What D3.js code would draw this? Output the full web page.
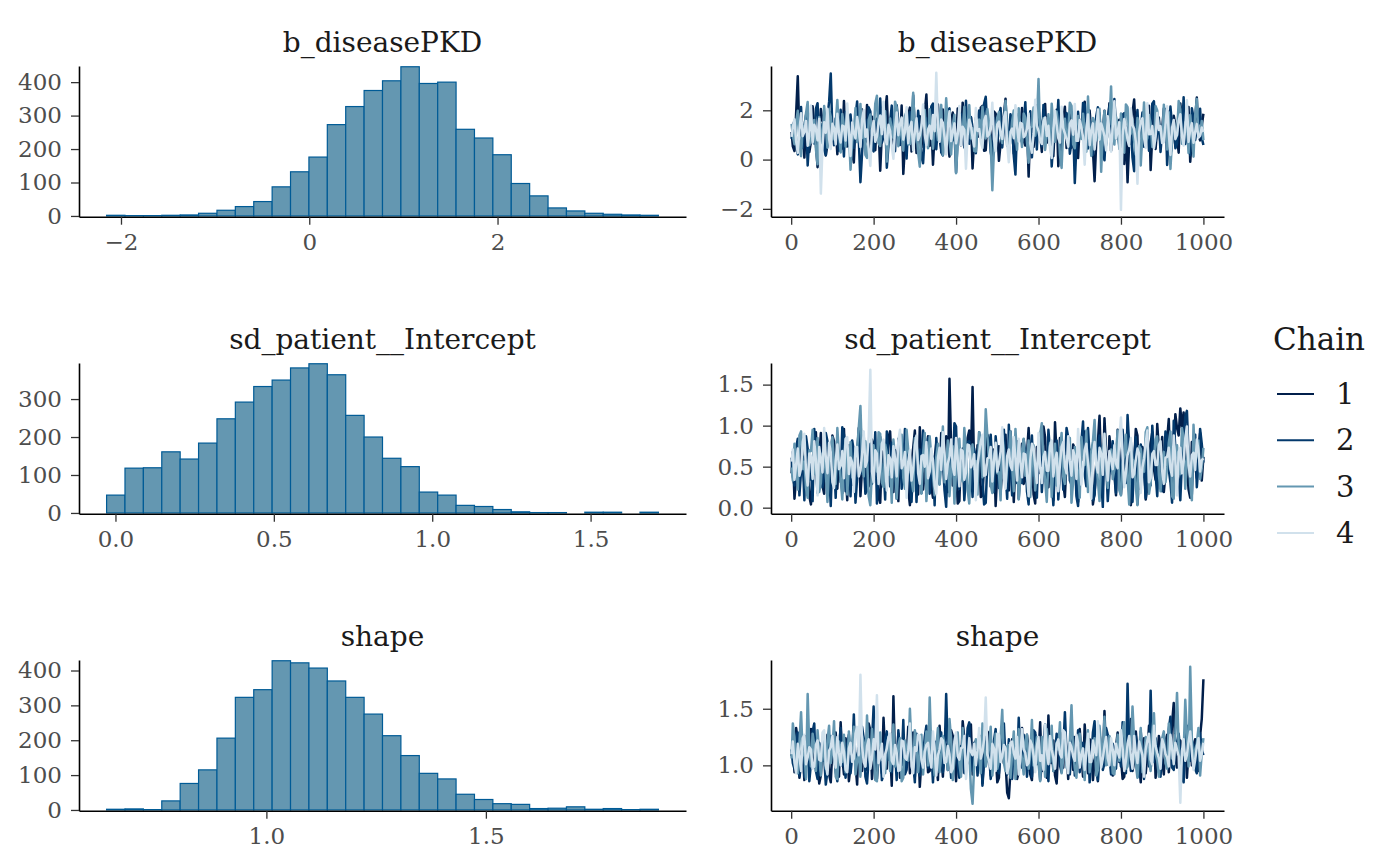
<!DOCTYPE html>
<html>
<head>
<meta charset="utf-8">
<script src="https://cdn.jsdelivr.net/npm/d3@7"></script>
<style>
body { margin: 0; background: #fff; }
svg { display: block; font-family: "DejaVu Serif", serif; }
.axis path.domain { stroke: #000; stroke-width: 1.6px; }
.axis .tick line { stroke: #333; stroke-width: 1.3px; }
.axis .tick text { fill: #4d4d4d; font-size: 23px; font-family: "DejaVu Serif", serif; }
.bar { fill: #6497b1; stroke: #005b96; stroke-width: 1.2px; }
.title { fill: #1a1a1a; font-size: 28px; text-anchor: middle; }
.legend text { fill: #1a1a1a; }
</style>
</head>
<body>
<svg width="1400" height="866"></svg>
<script>
/*Parameter names and chain colours*/
var params = ["b_diseasePKD", "sd_patient__Intercept", "shape"];
var chains = ["1", "2", "3", "4"];
var chainColors = ["#011f4b", "#03396c", "#6497b1", "#d1e1ec"];

/*Histogram counts (30 bins), first bin edge and bin width*/
var histCounts1 = [2, 1, 1, 2, 3, 8, 17, 28, 43, 87, 132, 176, 273, 327, 375, 404, 446, 396, 400, 259, 233, 183, 97, 60, 24, 15, 8, 5, 3, 2];
var histStart1 = -2.153, histWidth1 = 0.1954;
var histCounts2 = [47, 118, 119, 161, 142, 184, 248, 292, 333, 350, 382, 393, 364, 257, 200, 144, 122, 55, 47, 20, 17, 9, 3, 1, 1, 0, 2, 2, 0, 2];
var histStart2 = -0.028, histWidth2 = 0.05807;
var histCounts3 = [2, 3, 1, 26, 76, 115, 206, 323, 345, 428, 422, 407, 370, 323, 275, 213, 156, 105, 89, 45, 30, 18, 16, 4, 5, 9, 2, 4, 1, 2];
var histStart3 = 0.636, histWidth3 = 0.0419;

/*Tick values*/
var histXTicks1 = [-2, 0, 2], histYTicks1 = [0, 100, 200, 300, 400];
var histXTicks2 = [0, 0.5, 1, 1.5], histYTicks2 = [0, 100, 200, 300];
var histXTicks3 = [1, 1.5], histYTicks3 = [0, 100, 200, 300, 400];
var traceXTicks = [0, 200, 400, 600, 800, 1000];
var traceYTicks1 = [-2, 0, 2], traceYTicks2 = [0, 0.5, 1, 1.5], traceYTicks3 = [1, 1.5];

/*Trace draws, every 4th iteration of each chain*/
var thin = 4;
var trace1Chain1 = [1.12, 0.54, 0.35, 1.87, 3.38, 0.96, 1.63, 1.21, 0.08, 1.44, 1.95, 0.31, 0.72, 2.16, 1.28, 0.63, -0.31, 1.02, 2.05, 1.58, 1.47, 0.17, 0.61, 1.93, 1.89, 0.84, 0.94, 1.36,
  0.22, 1.68, 1.71, 0.45, 2.38, 1.12, 0.53, 1.79, 1.16, 0.26, -0.12, 1.55, 1.84, 0.91, 0.77, 2.03, 1.41, 0.69, 2.22, 1.18, 0.15, 1.74, 1.03, 0.38, 1.66, 1.29, -0.45, 1.05,
  0.89, 1.97, 2.57, 0.72, 1.32, 1.49, 0.41, 0.88, 1.97, 1.24, 0.66, 2.19, -0.58, 0.57, 1.51, 1.82, 2.11, 0.33, 0.98, 1.66, 0.27, 1.13, 1.76, 0.49, 1.22, 1.91, 2.64, 0.94,
  0.55, 1.47, -0.21, 1.06, 1.38, 2.24, 0.84, 0.42, 2.03, 1.35, 1.59, 0.79, 0.12, 1.63, 1.91, 1.08, 0.71, 2.07, 1.25, 0.58, 2.31, 1.39, 0.44, 0.97, 1.07, 1.72, -0.36, 0.83,
  1.69, 1.16, 0.93, 2.11, 2.18, 0.36, 0.38, 1.54, 1.49, 0.87, 0.62, 1.95, 1.87, 1.23, -0.05, 0.65, 1.14, 1.81, 2.47, 0.92, 0.81, 1.43, 1.35, 0.24, 0.19, 1.67, 1.79, 1.04,
  2.09, 0.76, 0.57, 1.52, -0.69, 1.28, 1.43, 0.51, 0.99, 2.21, 1.93, 1.09, 0.31, 1.74, 2.26, 0.68, 1.18, 1.37, 0.67, 0.14, 1.58, 2.02, -0.27, 0.95, 0.86, 1.61, 2.14, 0.47,
  1.29, 1.84, 0.48, 1.11, 1.82, 0.59, 0.06, 1.47, 1.61, 0.82, 2.35, 1.26, 0.74, 1.99, 1.09, 0.37, -0.88, 0.71, 1.45, 1.88, 0.58, 1.17, 1.98, 0.64, 1.21, 2.29, 0.36, 1.53,
  2.19, 0.86, 0.92, 1.62, 1.55, 0.21, -0.18, 1.34, -0.92, 0.77, 0.63, 1.9, 2.44, 1.07, 1.11, 0.52, 0.29, 1.75, 1.64, 1.19, 0.87, 2.18, -0.42, 0.98, 1.96, 0.43, 1.33, 1.71,
  0.51, 1.25, 2.07, 0.89, 1.26, 1.94, 0.16, 0.73, 1.78, 1.41, 0.95, 0.28, 2.28, 1.56, 0.69, 1.03, 1.47, 2.13, -0.09, 0.84, 1.15, 1.64, 2.52, 0.99, 0.78, 1.37, 1.86];
var trace1Chain2 = [0.84, 1.38, 1.57, 0.62, 0.21, 1.09, 2.13, 0.47, 1.36, 1.81, -0.24, 0.93, 1.88, 1.26, 0.65, 2.07, 2.29, 0.71, 1.02, 1.45, 0.39, 0.18, 1.74, 2.34, 3.49, 1.12, 0.58, 1.67,
  1.41, 0.36, 2.02, 1.24, 0.13, 1.93, 1.19, 0.55, 1.83, 1.01, 0.47, 1.72, 2.36, 0.82, -0.92, 0.27, 1.28, 1.63, 0.76, 2.12, 1.95, 0.44, 0.33, 1.35, 1.62, 0.98, 2.48, 0.69,
  0.91, 1.77, -0.33, 0.58, 1.54, 2.19, 1.09, 0.34, 2.21, 1.48, 0.59, 1.15, 1.37, 0.81, 0.04, 1.59, 1.92, 0.66, 2.61, 1.32, 0.72, 1.98, 1.24, 0.12, -0.15, 1.06, 1.68, 0.87,
  1.05, 2.16, 2.27, 0.73, 0.42, 1.46, 1.81, 0.29, 0.17, 1.39, 1.46, 1.97, 2.08, 0.64, 0.83, 1.22, -0.52, 0.91, 1.59, 1.86, 1.17, 0.49, 2.39, 1.05, 0.64, 1.73, 1.31, 0.38,
  0.26, 1.52, 1.99, 0.97, 0.88, 2.26, 2.55, 1.14, 1.42, 0.31, -0.07, 1.69, 1.13, 0.76, 1.76, 2.09, 0.49, 1.27, 2.17, 0.56, 0.97, 1.84, 1.53, 0.15, -0.61, 1.31, 1.85, 0.92,
  0.71, 1.43, 2.33, 0.63, 1.27, 1.96, 0.09, 1.18, 1.67, 0.41, 2.04, 1.55, 0.54, 2.22, 1.39, 0.87, 0.92, 1.64, -0.28, 0.78, 1.79, 1.11, 2.42, 0.53, 0.37, 1.49, 1.21, 1.89,
  1.58, 0.24, 0.68, 1.33, -0.95, 0.61, 1.94, 1.02, 1.06, 2.3, 2.24, 0.85, 0.45, 1.61, 1.34, 0.19, 0.81, 1.76, 2.12, 1.04, 1.48, 0.4, -0.03, 1.28, 1.72, 2.18, 0.61, 0.99,
  2.46, 1.36, 1.16, 0.57, 0.23, 1.82, 1.89, 0.94, 0.75, 1.47, 1.51, 0.08, -0.47, 1.25, 2.01, 0.67, 1.23, 1.91, 0.52, 1.14, 1.97, 0.36, 0.85, 2.27, 2.37, 0.74, 1.08, 1.58,
  0.31, 1.19, 1.65, 2.05, -0.22, 0.88, 2.15, 1.37, 1.44, 0.46, 0.66, 1.78, 1.87, 1.01, 2.53, 0.63, 0.94, 1.54, 0.18, 2.08, 1.71, 0.79, 1.3, 1.46, 2.06, 0.88, 0.59];
var trace1Chain3 = [1.45, 0.97, 0.62, 1.51, 1.98, 0.77, 0.14, 1.36, 1.27, 1.88, 2.34, 0.59, 0.83, 1.19, 1.61, 0.42, -0.19, 1.73, 1.09, 0.66, 2.17, 1.29, 0.48, 2.03, 1.74, 0.81, 0.96, 1.44,
  2.42, 1.07, 0.29, 1.85, 1.36, 0.52, 1.88, 1.14, -0.41, 0.73, 1.15, 2.09, 0.71, 1.32, 2.26, 0.88, 1.52, 0.19, 0.07, 1.61, 1.83, 1.03, 1.01, 2.28, 2.59, 0.67, 0.55, 1.42,
  1.22, 1.96, -0.08, 0.85, 1.67, 1.24, 0.89, 2.35, 2.11, 0.54, 1.43, 1.02, 0.36, 1.76, 1.95, 0.61, 0.63, 1.48, 2.71, 1.11, 1.18, 0.28, -0.29, 1.39, 1.57, 2.01, 0.92, 0.46,
  2.04, 1.26, 0.44, 1.63, 1.31, 0.79, 1.79, 2.22, 0.19, 0.95, 2.49, 1.34, 0.77, 0.21, 1.39, 1.82, -0.55, 0.69, 1.86, 1.18, 1.05, 2.14, 0.58, 1.47, 2.21, 0.86, 1.27, 0.35,
  0.33, 1.58, 1.62, 0.91, 2.14, 1.37, 0.86, 2.05, 1.48, 0.63, -1.24, 0.45, 1.12, 1.71, 1.93, 0.98, 0.67, 1.54, 2.38, 1.16, 0.24, 0.82, 1.56, 1.99, 1.03, 0.39, 2.08, 1.22,
  0.51, 1.87, 1.71, 0.74, -0.13, 1.29, 1.34, 2.11, 0.97, 1.45, 3.27, 0.93, 1.19, 1.68, 0.39, 1.07, 1.84, 0.56, 2.27, 1.33, 0.72, 1.95, 1.41, 0.18, -0.34, 1.24, 1.66, 0.89,
  1.08, 2.31, 2.18, 0.62, 0.46, 1.53, 1.77, 0.99, 0.84, 1.86, 1.29, 0.32, 2.56, 1.13, 0.15, 1.69, 1.53, 0.78, 0.93, 2.06, -0.49, 1.21, 1.97, 0.57, 1.24, 1.44, 2.97, 0.87,
  0.61, 1.74, 1.38, 0.43, 1.87, 1.12, 0.28, 2.24, 2.13, 0.96, 1.06, 1.63, 0.74, 0.2, 1.69, 1.35, -0.24, 1.09, 2.32, 0.68, 0.87, 1.81, 1.46, 0.51, 0.53, 2.17, 1.99, 1.26,
  1.17, 0.73, 2.23, 1.42, 0.41, 1.92, -0.38, 0.84, 1.59, 1.16, 0.98, 2.38, 2.05, 0.64, 0.69, 1.51, 1.35, 0.27, 1.81, 1.07, 0.12, 1.78, 2.46, 0.93, 1.02, 1.57, 0.79];
var trace1Chain4 = [0.92, 1.31, 1.64, 0.74, 0.27, 1.18, 1.88, 0.95, 1.13, 1.57, 0.56, 1.02, 2.19, 0.68, 1.41, 1.23, 0.78, 1.66, -1.38, 0.49, 1.52, 1.09, 2.06, 0.83, 0.43, 1.45, 1.27, 0.61,
  1.86, 1.05, 0.69, 1.38, 1.35, 0.77, 2.28, 1.14, 0.15, 1.51, 1.08, 0.86, 1.73, 1.27, 0.51, 1.62, 2.01, 0.93, 1.22, 0.41, -0.26, 1.19, 1.57, 0.72, 0.94, 1.48, 1.79, 1.03,
  2.35, 0.88, 0.62, 1.41, 1.17, 0.56, 0.03, 1.26, 1.91, 0.99, 1.44, 1.71, 0.81, 1.12, 2.12, 0.67, 1.29, 1.53, 0.37, 1.08, 1.68, 0.79, 0.98, 1.36, 2.24, 1.01, 0.58, 1.22,
  1.38, 0.84, 1.81, 1.15, 3.52, 1.29, 0.72, 1.63, 1.49, 0.91, 0.21, 1.34, 1.96, 0.75, 1.11, 1.47, 0.66, 1.04, 2.17, 0.59, 1.33, 1.21, -0.37, 0.97, 1.62, 1.39, 0.89, 0.53,
  2.09, 1.16, 1.24, 0.71, 0.47, 1.58, 1.77, 0.94, 1.02, 1.35, 2.31, 0.82, 0.34, 1.43, 1.54, 1.07, 0.84, 1.69, 1.93, 0.62, -0.11, 1.13, 1.26, 0.87, 2.21, 1.32, 0.73, 1.49,
  1.45, 0.91, 0.99, 1.25, 1.87, 0.64, 0.28, 1.06, 2.43, 1.37, 1.16, 0.78, 0.63, 1.55, 1.71, 0.96, 1.37, 0.45, 0.06, 1.18, 1.98, 1.41, 0.87, 0.69, 2.14, 1.28, 1.06, 0.83,
  0.52, 1.44, 1.59, 1.01, 2.26, 0.76, 0.76, 1.61, 1.31, 0.92, -0.21, 1.21, 1.83, 0.58, 1.19, 1.47, 0.41, 1.09, 2.03, 0.81, 1.47, 1.24, 0.95, 0.37, 1.76, 1.15, 0.32, 1.33,
  2.37, 0.86, 1.14, 1.52, -2.04, 0.98, 1.65, 1.27, 0.79, 0.55, 2.07, 1.39, 1.25, 0.74, -0.98, 1.11, 1.53, 1.68, 0.88, 0.47, 2.29, 1.03, 1.04, 1.36, 0.46, 0.93, 1.89, 1.2,
  1.36, 0.67, 0.71, 1.42, 2.16, 1.05, 0.19, 1.29, 1.61, 0.83, 1.01, 1.57, 1.84, 0.96, 0.57, 1.34, 2.41, 0.72, 1.23, 1.48, 0.68, 1.12, 1.44, 0.89, 0.97, 1.3, 1.12];

var trace2Chain1 = [0.42, 0.68, 0.11, 0.36, 0.67, 0.21, 0.85, 0.57, 0.29, 0.79, 0.53, 0.14, 0.04, 0.46, 0.74, 0.92, 0.38, 0.61, 0.91, 0.27, 0.17, 0.72, 0.62, 0.33, 0.47, 0.88, 0.81, 0.52,
  0.23, 0.66, 0.58, 0.18, 0.96, 0.43, 0.09, 0.76, 0.71, 0.28, 0.35, 0.59, 0.64, 0.97, 0.14, 0.48, 0.88, 0.24, 0.49, 0.69, 0.26, 0.83, 0.77, 0.39, 0.55, 0.12, 0.06, 0.64,
  0.69, 0.31, 0.41, 0.86, 0.93, 0.5, 0.19, 0.7, 0.61, 0.08, 0.83, 0.45, 0.32, 0.78, 0.51, 0.22, 0.03, 0.57, 0.73, 0.94, 0.45, 0.16, 0.98, 0.63, 0.22, 0.41, 0.66, 0.87,
  0.57, 0.25, 0.12, 0.6, 0.79, 0.35, 0.36, 0.91, 0.63, 0.48, 0.87, 0.19, 1.57, 0.73, 0.27, 0.54, 0.52, 0.05, 0.08, 0.67, 0.72, 0.3, 0.44, 0.85, 0.94, 0.58, 1.47, 0.4,
  0.31, 0.76, 0.68, 0.13, 0.15, 0.52, 0.59, 0.89, 0.82, 0.26, 0.39, 0.71, 0.02, 0.44, 0.75, 0.18, 0.48, 0.62, 0.89, 0.35, 0.21, 0.93, 0.65, 0.07, 0.54, 0.81, 0.11, 0.47,
  0.78, 0.29, 0.34, 0.66, 0.97, 0.55, 0.61, 0.16, 0.05, 0.74, 0.71, 0.42, 0.43, 0.99, 0.86, 0.24, 0.25, 0.69, 0.56, 0.09, 1.04, 0.63, 0.37, 0.85, 0.67, 0.31, 0.13, 0.58,
  0.84, 0.45, 0.46, 0.77, 0.72, 0.2, 0.07, 0.6, 0.58, 0.94, 0.92, 0.37, 0.33, 0.71, 0.63, 0.04, 0.18, 0.53, 0.8, 1.12, 0.5, 0.26, 1.09, 0.68, 0.28, 0.87, 0.69, 0.41,
  0.41, 0.15, 0.95, 0.64, 0.16, 0.49, 0.6, 0.82, 0.76, 0.3, 0.03, 0.58, 0.53, 0.96, 0.88, 0.23, 0.35, 0.74, 0.66, 0.1, 0.24, 0.61, 0.79, 0.92, 0.47, 0.34, 1.02, 0.71,
  0.58, 0.86, 0.19, 0.42, 0.83, 1.08, 0.4, 0.65, 0.7, 1.14, 0.97, 0.88, 1.21, 0.98, 1.16, 0.59, 0.49, 0.22, 0.12, 0.8, 0.74, 0.53, 0.36, 0.67, 0.91, 0.33, 0.62];
var trace2Chain2 = [0.61, 0.38, 0.27, 0.73, 0.84, 0.15, 0.45, 0.62, 0.09, 0.87, 0.72, 0.34, 0.53, 0.08, 0.96, 0.49, 0.18, 0.77, 0.66, 0.25, 0.39, 0.91, 0.81, 0.44, 0.02, 0.68, 0.57, 0.12,
  0.74, 0.55, 0.31, 0.98, 0.89, 0.2, 0.48, 0.63, 0.14, 0.82, 0.69, 0.06, 0.36, 0.75, 1.12, 0.41, 0.59, 0.17, 0.21, 0.66, 0.78, 0.29, 0.43, 0.92, 0.05, 0.51, 0.86, 0.35,
  0.52, 0.1, 0.93, 0.58, 0.26, 0.79, 0.64, 0.37, 0.11, 0.84, 0.75, 0.23, 0.47, 0.96, 0.83, 0.44, 0.33, 0.07, 0.58, 0.7, 0.07, 0.53, 0.71, 0.18, 0.94, 0.62, 0.4, 0.85,
  0.17, 0.47, 0.62, 0.03, 0.85, 0.56, 0.29, 0.74, 0.55, 0.21, 0.01, 0.66, 0.77, 0.36, 0.44, 1.03, 0.99, 0.28, 0.23, 0.61, 0.68, 0.09, 0.38, 0.8, 0.81, 0.5, 0.13, 0.72,
  0.6, 0.32, 0.92, 0.68, 0.34, 0.04, 0.06, 0.57, 0.73, 0.89, 0.5, 0.19, 0.87, 0.63, 0.24, 0.42, 0.65, 0.95, 0.42, 0.11, 1.01, 0.54, 0.15, 0.76, 0.57, 0.3, 0.79, 0.45,
  0.3, 0.83, 0.67, 0.2, 0.04, 0.61, 0.88, 0.39, 0.46, 0.12, 0.71, 0.9, 0.19, 0.52, 0.61, 0.27, 0.95, 0.68, 0.37, 0.03, 0.54, 0.82, 0.1, 0.44, 0.76, 0.22, 0.49, 0.97,
  0.86, 0.33, 0.28, 0.7, 0.64, 0.14, 0.02, 0.59, 0.8, 1.05, 0.41, 0.26, 0.97, 0.62, 0.56, 0.09, 0.16, 0.48, 0.73, 0.88, 0.35, 0.01, 0.9, 0.56, 0.08, 0.4, 0.62, 0.81,
  0.47, 0.18, 0.83, 0.53, 0.22, 0.95, 0.69, 0.3, 1.13, 0.75, 0.39, 0.07, 0.58, 0.86, 0.04, 0.36, 0.77, 0.63, 0.45, 0.12, 0.92, 0.54, 0.27, 1.0, 0.66, 0.41, 0.14, 0.69,
  0.74, 0.2, 0.51, 0.93, 0.87, 0.46, 0.31, 0.06, 1.06, 0.72, 0.6, 0.35, 0.09, 0.58, 0.82, 1.11, 1.18, 0.64, 0.43, 0.16, 0.7, 0.89, 0.25, 0.52, 0.96, 0.78, 0.55];
var trace2Chain3 = [0.49, 0.33, 0.78, 0.61, 0.22, 0.88, 0.93, 0.47, 0.56, 0.24, 0.12, 0.7, 0.69, 0.95, 0.41, 0.58, 0.85, 0.19, 0.3, 0.66, 0.63, 0.42, 0.07, 0.54, 0.74, 0.86, 0.52, 0.29,
  0.97, 0.64, 0.35, 0.1, 0.61, 0.83, 0.16, 0.51, 0.8, 0.37, 0.46, 0.72, 0.71, 0.98, 1.24, 0.57, 0.38, 0.81, 0.58, 0.14, 0.03, 0.45, 0.76, 0.62, 0.44, 0.92, 0.9, 0.31,
  0.25, 0.77, 0.67, 0.4, 0.54, 0.06, 0.83, 0.6, 0.11, 0.49, 0.72, 0.89, 0.36, 0.23, 0.95, 0.7, 0.59, 0.34, 0.2, 0.85, 0.79, 0.53, 0.48, 0.17, 0.65, 0.91, 0.08, 0.43,
  0.87, 0.62, 0.4, 0.15, 0.62, 0.78, 0.28, 0.56, 0.99, 0.31, 0.53, 0.82, 0.14, 0.45, 0.75, 0.05, 0.45, 0.68, 0.84, 0.39, 0.32, 0.97, 0.68, 0.22, 0.05, 0.58, 0.77, 0.47,
  0.57, 0.16, 0.92, 0.74, 0.37, 0.55, 1.2, 0.87, 0.6, 0.28, 0.18, 0.64, 0.73, 0.42, 0.43, 0.09, 0.88, 0.71, 0.26, 0.5, 0.64, 0.93, 0.5, 0.2, 0.96, 0.61, 0.1, 0.36,
  0.7, 0.84, 0.39, 0.59, 0.82, 0.13, 0.55, 0.76, 0.21, 0.44, 0.66, 0.9, 1.03, 0.52, 0.34, 0.07, 0.6, 0.79, 0.13, 0.48, 0.78, 0.27, 0.47, 0.69, 0.91, 0.38, 0.29, 0.63,
  0.63, 0.85, 0.06, 0.32, 0.74, 0.57, 0.42, 0.12, 0.86, 0.65, 0.52, 0.94, 0.19, 0.4, 0.69, 0.81, 1.07, 0.55, 0.33, 0.08, 0.58, 0.73, 0.81, 0.46, 0.24, 0.62, 0.71, 0.35,
  0.46, 0.67, 0.94, 0.21, 0.15, 0.53, 0.65, 0.89, 0.37, 0.04, 0.8, 0.59, 0.56, 0.26, 0.03, 0.75, 0.72, 0.48, 0.44, 0.92, 0.98, 0.17, 0.3, 0.66, 0.61, 0.83, 0.87, 0.4,
  0.2, 0.57, 0.68, 0.31, 0.5, 0.79, 0.93, 0.14, 0.11, 0.63, 0.76, 0.45, 0.41, 0.97, 0.84, 0.23, 0.57, 0.7, 0.27, 0.09, 1.01, 0.55, 0.64, 0.82, 0.35, 0.48, 0.73];
var trace2Chain4 = [0.56, 0.71, 0.34, 0.52, 0.72, 0.39, 0.48, 0.8, 0.9, 0.45, 0.27, 0.66, 0.63, 0.35, 0.81, 0.58, 0.15, 0.74, 0.59, 0.43, 0.97, 0.62, 0.42, 0.79, 0.68, 0.31, 0.24, 0.57,
  0.77, 0.47, 0.51, 0.69, 0.36, 0.84, 0.86, 0.41, 0.61, 0.55, 0.19, 0.73, 0.74, 0.38, 0.45, 0.65, 0.93, 0.5, 0.57, 0.87, 1.68, 0.44, 0.31, 0.7, 0.66, 0.29, 0.49, 0.78,
  0.83, 0.53, 0.21, 0.64, 0.6, 0.37, 0.75, 0.59, 0.38, 0.82, 0.95, 0.48, 0.53, 0.68, 0.12, 0.56, 0.7, 0.33, 0.47, 0.76, 0.88, 0.42, 0.29, 0.63, 0.64, 0.5, 0.8, 0.36,
  0.44, 0.72, 0.58, 0.27, 0.17, 0.61, 0.73, 0.46, 0.92, 0.67, 0.35, 0.54, 0.62, 0.83, 0.5, 0.4, 0.85, 0.58, 0.26, 0.71, 0.69, 0.34, 0.43, 0.77, 0.76, 0.49, 0.55, 0.65,
  0.09, 0.52, 0.67, 0.81, 0.89, 0.39, 0.4, 0.6, 0.61, 0.74, 0.32, 0.57, 0.79, 0.44, 0.54, 0.69, 0.98, 0.36, 0.23, 0.63, 0.71, 0.51, 0.46, 0.86, 0.6, 0.33, 0.84, 0.55,
  0.37, 0.66, 0.65, 0.41, 0.14, 0.58, 0.78, 0.72, 0.52, 0.3, 0.91, 0.49, 0.3, 0.62, 0.68, 0.45, 0.45, 0.75, 0.82, 0.38, 0.58, 0.67, 0.2, 0.53, 0.74, 0.8, 0.5, 0.42,
  0.87, 0.57, 0.39, 0.7, 0.63, 0.35, 0.96, 0.61, 0.28, 0.48, 0.7, 0.78, 0.55, 0.34, 0.11, 0.64, 0.8, 0.52, 0.43, 0.73, 0.66, 0.4, 0.9, 0.59, 0.33, 0.69, 0.59, 0.47,
  0.76, 0.54, 0.48, 0.83, 1.1, 0.62, 0.25, 0.43, 0.64, 0.71, 0.85, 0.37, 0.41, 0.58, 0.72, 0.66, 0.18, 0.49, 0.6, 0.79, 0.94, 0.31, 0.36, 0.65, 0.69, 0.52, 0.52, 0.76,
  0.81, 0.45, 0.29, 0.61, 0.62, 0.73, 0.47, 0.39, 0.88, 0.57, 0.15, 0.68, 0.73, 0.42, 0.56, 0.84, 0.99, 0.51, 0.38, 0.64, 0.67, 0.46, 0.83, 0.7, 0.44, 0.58, 0.6];

var trace3Chain1 = [1.08, 1.19, 0.94, 1.33, 1.23, 0.89, 1.01, 1.12, 0.87, 1.26, 1.15, 0.97, 1.32, 1.04, 0.98, 1.21, 1.06, 0.84, 0.91, 1.17, 1.19, 1.03, 1.27, 0.92, 0.85, 1.14, 1.11, 1.29,
  1.03, 0.9, 1.38, 1.07, 0.92, 1.24, 1.14, 0.86, 0.99, 1.16, 1.25, 1.01, 0.83, 1.3, 1.09, 0.95, 1.21, 1.13, 0.96, 1.37, 1.31, 0.88, 1.05, 1.2, 0.88, 1.06, 1.17, 0.93,
  1.42, 1.1, 0.97, 1.22, 1.12, 0.82, 1.61, 1.04, 1.02, 1.28, 0.89, 1.15, 1.2, 0.99, 1.07, 1.34, 0.93, 1.08, 1.29, 0.9, 1.13, 1.23, 0.81, 1.05, 1.1, 1.18, 1.24, 0.94,
  0.95, 1.27, 1.16, 1.02, 1.04, 0.87, 1.35, 1.11, 0.9, 1.2, 1.18, 0.96, 1.01, 1.31, 1.26, 1.07, 0.86, 1.15, 1.12, 0.93, 1.39, 1.24, 0.98, 1.03, 1.08, 1.36, 0.92, 1.13,
  1.22, 0.97, 1.05, 1.18, 0.84, 1.09, 1.15, 1.3, 1.28, 0.91, 0.97, 1.14, 1.1, 0.85, 0.89, 1.25, 1.19, 1.02, 1.03, 0.76, 0.71, 0.95, 1.23, 1.17, 1.06, 0.88, 0.94, 1.21,
  1.33, 1.05, 1.0, 1.27, 1.14, 0.92, 0.87, 1.16, 1.27, 1.01, 1.09, 1.38, 0.95, 1.11, 1.2, 0.89, 1.44, 1.07, 1.02, 1.22, 0.91, 0.84, 1.17, 1.29, 1.07, 0.98, 1.3, 1.12,
  0.88, 1.19, 1.13, 0.96, 1.25, 1.05, 0.99, 1.32, 1.08, 0.9, 1.36, 1.14, 0.93, 1.23, 1.21, 0.87, 1.04, 1.1, 0.86, 1.28, 1.16, 0.99, 1.48, 1.06, 1.01, 1.24, 1.11, 0.91,
  0.96, 1.17, 1.29, 1.03, 1.06, 0.88, 0.9, 1.22, 1.19, 1.09, 1.41, 0.95, 1.03, 1.3, 1.14, 1.01, 0.85, 1.18, 1.24, 0.93, 1.09, 1.35, 0.97, 1.12, 1.32, 0.89, 1.05, 1.26,
  1.18, 1.04, 0.92, 1.21, 1.27, 0.94, 1.12, 1.37, 1.55, 1.08, 0.98, 1.16, 1.22, 0.9, 1.07, 1.29, 0.89, 1.13, 1.34, 1.0, 1.15, 1.23, 1.02, 0.95, 1.26, 1.41, 1.76];
var trace3Chain2 = [1.14, 1.02, 0.97, 1.25, 1.29, 0.91, 1.05, 1.18, 0.9, 1.11, 1.21, 0.86, 1.02, 1.3, 1.37, 0.95, 0.88, 1.2, 1.16, 1.04, 1.08, 0.83, 0.95, 1.22, 1.26, 1.09, 1.11, 0.94,
  0.86, 1.17, 1.33, 1.0, 1.03, 0.89, 1.19, 1.27, 0.93, 1.08, 1.45, 0.98, 1.07, 1.15, 0.99, 1.34, 1.24, 0.9, 0.84, 1.06, 1.13, 1.21, 1.52, 0.97, 1.0, 1.14, 1.18, 0.87,
  0.92, 1.23, 1.3, 1.05, 1.06, 0.94, 1.22, 1.12, 0.87, 1.31, 1.12, 1.0, 1.4, 0.92, 0.96, 1.19, 1.17, 1.07, 1.04, 0.85, 1.28, 1.16, 0.91, 1.03, 1.09, 1.25, 1.35, 0.98,
  1.01, 1.13, 0.85, 1.21, 1.2, 0.96, 1.1, 1.29, 0.94, 1.07, 1.63, 1.14, 1.15, 0.89, 1.03, 1.24, 1.27, 1.01, 0.89, 1.17, 1.13, 0.93, 1.06, 1.33, 1.38, 1.05, 0.95, 1.2,
  1.19, 0.91, 1.08, 1.26, 0.82, 1.04, 1.25, 1.15, 1.11, 0.88, 1.0, 1.22, 1.32, 0.97, 0.93, 1.1, 1.17, 1.37, 1.05, 0.92, 1.23, 1.08, 0.88, 1.18, 1.14, 0.99, 1.42, 1.06,
  0.98, 1.27, 1.2, 0.9, 1.07, 1.13, 0.9, 1.31, 1.29, 1.02, 1.12, 0.87, 1.01, 1.19, 1.36, 1.05, 0.86, 1.23, 1.16, 0.95, 1.09, 1.28, 1.24, 1.0, 0.94, 1.12, 1.47, 1.09,
  1.04, 0.92, 1.18, 1.25, 0.91, 1.06, 1.31, 0.94, 1.1, 1.2, 0.97, 1.14, 1.21, 0.85, 1.06, 1.29, 1.39, 1.02, 0.87, 1.16, 1.15, 0.96, 1.02, 1.33, 1.27, 1.08, 0.92, 1.19,
  1.13, 0.97, 1.23, 1.11, 0.99, 1.38, 1.08, 0.93, 1.72, 1.15, 0.95, 1.04, 1.19, 1.26, 1.05, 0.9, 1.3, 1.12, 0.88, 1.21, 1.17, 0.99, 1.66, 1.07, 1.03, 1.24, 1.12, 0.94,
  0.9, 1.16, 1.26, 1.02, 1.07, 1.32, 1.43, 0.98, 0.96, 1.11, 1.2, 1.28, 1.11, 0.9, 0.85, 1.18, 1.35, 1.06, 1.04, 1.22, 1.18, 0.97, 0.93, 1.3, 1.28, 1.14, 1.09];
var trace3Chain3 = [1.06, 1.37, 1.25, 0.98, 0.93, 1.2, 1.47, 1.09, 1.12, 0.88, 1.63, 1.15, 0.99, 1.28, 1.18, 0.95, 1.31, 1.11, 0.91, 1.24, 1.08, 0.97, 1.22, 1.35, 1.02, 1.14, 1.39, 0.9,
  0.88, 1.21, 1.15, 1.03, 1.27, 0.94, 0.97, 1.3, 1.1, 1.17, 1.34, 0.92, 1.04, 1.12, 0.9, 1.26, 1.2, 0.99, 1.44, 1.08, 1.01, 1.32, 1.13, 0.87, 0.86, 1.19, 1.29, 1.05,
  1.07, 0.93, 1.17, 1.25, 0.95, 1.11, 1.36, 0.99, 1.03, 1.18, 1.24, 0.86, 0.89, 1.22, 1.14, 1.04, 1.5, 1.15, 0.98, 1.31, 1.21, 0.94, 1.09, 1.27, 0.92, 1.13, 1.3, 1.0,
  1.6, 1.12, 1.05, 0.91, 1.16, 1.33, 0.94, 1.08, 1.26, 1.19, 1.11, 0.96, 1.41, 1.23, 0.87, 1.05, 1.19, 1.29, 1.02, 0.9, 1.33, 1.14, 0.96, 1.07, 1.13, 0.79, 0.66, 1.01,
  1.23, 1.15, 1.08, 0.93, 1.37, 1.21, 0.99, 1.06, 1.15, 1.34, 0.91, 1.1, 1.28, 0.97, 1.04, 1.24, 1.49, 1.02, 0.95, 1.17, 1.18, 0.89, 1.1, 1.3, 0.88, 1.07, 1.32, 1.13,
  1.06, 0.92, 1.21, 1.27, 0.97, 1.09, 1.4, 1.0, 1.12, 1.25, 1.01, 0.86, 1.25, 1.16, 0.9, 1.32, 1.17, 1.03, 1.35, 0.95, 1.03, 1.2, 1.14, 1.38, 0.93, 1.06, 1.29, 0.98,
  1.08, 1.22, 1.53, 1.11, 0.98, 0.89, 1.2, 1.28, 1.11, 1.03, 0.87, 1.16, 1.31, 0.94, 1.05, 1.19, 1.24, 0.91, 0.96, 1.35, 1.16, 1.07, 1.43, 1.0, 1.02, 1.26, 1.19, 0.93,
  0.92, 1.13, 1.27, 1.04, 1.09, 1.31, 1.38, 0.97, 0.99, 1.18, 1.14, 1.52, 1.22, 1.01, 0.89, 1.12, 1.33, 0.94, 1.07, 1.25, 1.18, 1.08, 0.95, 1.29, 1.46, 1.1, 1.04, 0.9,
  1.15, 1.24, 1.3, 1.02, 0.97, 1.37, 1.21, 1.06, 1.12, 1.28, 1.64, 1.17, 0.94, 1.08, 1.1, 1.58, 1.26, 0.99, 1.87, 1.23, 1.01, 1.14, 1.19, 1.33, 0.91, 1.11, 1.24];
var trace3Chain4 = [1.1, 1.21, 1.02, 0.93, 1.19, 1.08, 0.95, 1.24, 1.27, 1.01, 1.07, 1.16, 1.14, 0.97, 0.99, 1.18, 1.22, 1.05, 1.04, 1.29, 1.31, 1.0, 0.92, 1.13, 1.16, 1.26, 1.09, 0.98,
  1.25, 1.11, 1.0, 1.2, 1.12, 0.96, 0.94, 1.15, 1.2, 1.03, 1.06, 1.28, 1.34, 1.09, 1.8, 1.17, 1.03, 0.99, 1.17, 1.23, 0.97, 1.06, 1.23, 1.14, 1.62, 1.02, 1.08, 1.19,
  0.9, 1.1, 1.15, 1.25, 1.28, 1.04, 1.01, 1.18, 1.11, 0.95, 0.96, 1.22, 1.21, 1.07, 1.05, 1.13, 1.37, 0.99, 0.93, 1.16, 1.13, 1.27, 1.26, 1.05, 0.98, 1.12, 1.18, 1.2,
  1.07, 0.98, 1.3, 1.14, 0.91, 1.09, 1.14, 1.24, 1.22, 1.02, 1.03, 1.17, 1.1, 0.94, 0.97, 1.21, 1.29, 1.08, 1.05, 1.15, 1.16, 1.26, 0.88, 1.04, 1.24, 1.12, 1.09, 1.19,
  1.0, 1.13, 1.33, 1.06, 1.12, 1.23, 1.6, 1.1, 1.04, 0.97, 1.19, 1.15, 0.95, 1.28, 1.27, 1.03, 1.08, 1.18, 1.15, 0.93, 0.99, 1.2, 1.21, 1.11, 1.06, 1.25, 0.92, 1.07,
  1.32, 1.14, 1.11, 1.0, 1.02, 1.22, 1.18, 1.09, 0.94, 1.17, 1.25, 1.04, 1.09, 0.96, 1.36, 1.13, 1.01, 1.26, 1.14, 1.07, 0.97, 1.19, 1.23, 1.1, 1.07, 1.31, 1.29, 1.05,
  0.93, 1.2, 1.16, 1.08, 1.04, 1.27, 1.2, 0.98, 1.1, 1.15, 0.96, 1.12, 1.28, 1.03, 1.03, 1.22, 1.13, 1.09, 1.39, 1.17, 0.98, 1.06, 1.17, 1.25, 1.06, 1.0, 1.24, 1.14,
  1.0, 1.19, 1.12, 1.07, 1.31, 1.16, 0.95, 1.04, 1.19, 1.26, 1.08, 0.97, 1.26, 1.11, 1.02, 1.21, 1.15, 1.09, 0.9, 1.14, 1.22, 1.28, 1.05, 1.01, 1.35, 1.17, 1.11, 1.06,
  0.97, 1.23, 1.18, 1.1, 1.07, 0.99, 1.27, 1.15, 1.01, 1.2, 1.14, 1.08, 0.67, 1.13, 1.23, 1.04, 1.09, 1.21, 1.3, 1.12, 0.96, 1.05, 1.16, 1.24, 1.04, 1.1, 1.2];

/*Rows are assembled from the arrays above*/
var rows = [
  {name: params[0], counts: histCounts1, start: histStart1, bw: histWidth1, hx: histXTicks1, hy: histYTicks1,
   hfmt: d3.format("d"), ty: traceYTicks1, tfmt: d3.format("d"),
   chains: [trace1Chain1, trace1Chain2, trace1Chain3, trace1Chain4]},
  {name: params[1], counts: histCounts2, start: histStart2, bw: histWidth2, hx: histXTicks2, hy: histYTicks2,
   hfmt: d3.format(".1f"), ty: traceYTicks2, tfmt: d3.format(".1f"),
   chains: [trace2Chain1, trace2Chain2, trace2Chain3, trace2Chain4]},
  {name: params[2], counts: histCounts3, start: histStart3, bw: histWidth3, hx: histXTicks3, hy: histYTicks3,
   hfmt: d3.format(".1f"), ty: traceYTicks3, tfmt: d3.format(".1f"),
   chains: [trace3Chain1, trace3Chain2, trace3Chain3, trace3Chain4]}
];

var svg = d3.select("svg");

/*Panel boxes in pixels*/
var histLeft = 79, histRight = 686, traceLeft = 771, traceRight = 1224;
var rowTop = 66, rowBottom = 216.7, rowStep = 297;

/*ggplot style padding around a range*/
function expand(lo, hi, m) {
  var d = (hi - lo) * m;
  return [lo - d, hi + d];
}

rows.forEach(function(row, r) {
  var top = rowTop + r * rowStep,
      bottom = rowBottom + r * rowStep;

  /*Histogram*/
  var bins = row.counts.map(function(c, i) {
    return {x0: row.start + i * row.bw, x1: row.start + (i + 1) * row.bw, n: c};
  });
  var hi = row.start + row.counts.length * row.bw;
  var x = d3.scaleLinear().domain(expand(row.start, hi, 0.05)).range([histLeft, histRight]);
  var y = d3.scaleLinear().domain(expand(0, d3.max(row.counts), 0.005)).range([bottom, top]);

  svg.append("g").selectAll(".bar")
    .data(bins)
    .enter().append("rect")
      .attr("class", "bar")
      .attr("x", function(d) { return x(d.x0); })
      .attr("y", function(d) { return y(d.n); })
      .attr("width", function(d) { return x(d.x1) - x(d.x0); })
      .attr("height", function(d) { return y(0) - y(d.n); });

  svg.append("g")
      .attr("class", "axis")
      .attr("transform", "translate(0," + bottom + ")")
      .call(d3.axisBottom(x).tickValues(row.hx).tickFormat(row.hfmt).tickSize(8).tickSizeOuter(0).tickPadding(9));

  svg.append("g")
      .attr("class", "axis")
      .attr("transform", "translate(" + histLeft + ",0)")
      .call(d3.axisLeft(y).tickValues(row.hy).tickFormat(d3.format("d")).tickSize(8).tickSizeOuter(0).tickPadding(9));

  svg.append("text")
      .attr("class", "title")
      .attr("x", (histLeft + histRight) / 2)
      .attr("y", top - 24)
      .attr("dy", "0.35em")
      .text(row.name);

  /*Trace plot, chain 4 drawn last so it sits on top*/
  var all = d3.merge(row.chains);
  var tx = d3.scaleLinear().domain(expand(1, 1000, 0.05)).range([traceLeft, traceRight]);
  var ty = d3.scaleLinear().domain(expand(d3.min(all), d3.max(all), 0.05)).range([bottom, top]);

  var line = d3.line()
    .x(function(d, i) { return tx(Math.max(1, i * thin)); })
    .y(function(d) { return ty(d); });

  svg.append("g").selectAll(".chain")
    .data(row.chains)
    .enter().append("path")
      .attr("class", "chain")
      .attr("fill", "none")
      .attr("stroke", function(d, i) { return chainColors[i]; })
      .attr("stroke-width", 2.5)
      .attr("stroke-linejoin", "round")
      .attr("d", line);

  svg.append("g")
      .attr("class", "axis")
      .attr("transform", "translate(0," + bottom + ")")
      .call(d3.axisBottom(tx).tickValues(traceXTicks).tickFormat(d3.format("d")).tickSize(8).tickSizeOuter(0).tickPadding(9));

  svg.append("g")
      .attr("class", "axis")
      .attr("transform", "translate(" + traceLeft + ",0)")
      .call(d3.axisLeft(ty).tickValues(row.ty).tickFormat(row.tfmt).tickSize(8).tickSizeOuter(0).tickPadding(9));

  svg.append("text")
      .attr("class", "title")
      .attr("x", (traceLeft + traceRight) / 2)
      .attr("y", top - 24)
      .attr("dy", "0.35em")
      .text(row.name);
});

/*Legend*/
var legend = svg.append("g").attr("class", "legend");

legend.append("text")
    .attr("x", 1273)
    .attr("y", 339)
    .attr("dy", "0.35em")
    .style("font-size", "31px")
    .text("Chain");

var item = legend.selectAll(".item")
  .data(chains)
  .enter().append("g")
    .attr("class", "item")
    .attr("transform", function(d, i) { return "translate(0," + (394 + i * 46.3) + ")"; });

item.append("line")
    .attr("x1", 1277)
    .attr("x2", 1314)
    .attr("stroke", function(d, i) { return chainColors[i]; })
    .attr("stroke-width", 2);

item.append("text")
    .attr("x", 1336)
    .attr("dy", "0.35em")
    .style("font-size", "29px")
    .text(function(d) { return d; });
</script>
</body>
</html>
